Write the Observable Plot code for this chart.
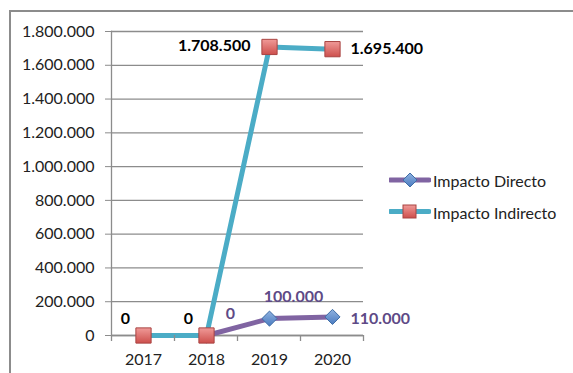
<!DOCTYPE html>
<html>
<head>
<meta charset="utf-8">
<script src="https://cdn.jsdelivr.net/npm/d3@7"></script>
<script src="https://cdn.jsdelivr.net/npm/@observablehq/plot@0.6"></script>
<style>
  html, body { margin: 0; padding: 0; background: #fff; }
  #wrap { position: relative; width: 573px; height: 373px; overflow: hidden; font-family: Lato, "Open Sans", sans-serif; }
  #frame { position: absolute; left: 9px; top: 10px; right: -5px; bottom: -5px; border-top: 2px solid #8c8c8c; border-left: 2px solid #8c8c8c; pointer-events: none; }
  #legend { position: absolute; left: 389px; top: 164px; font-size: 16px; color: #222; }
  .li { display: flex; align-items: center; height: 32px; }
  .li svg { margin-right: 2px; }
</style>
</head>
<body>
<div id="wrap">
  <div id="chart"></div>
  <div id="frame"></div>
  <div id="legend"></div>
</div>
<script>
// ---- data ----
const years = ["2017", "2018", "2019", "2020"];
const seriesNames = ["Impacto Directo", "Impacto Indirecto"];
const directo = [null, 0, 100000, 110000];
const indirecto = [0, 0, 1708500, 1695400];
const yTicks = [0, 200000, 400000, 600000, 800000, 1000000, 1200000, 1400000, 1600000, 1800000];

const loc = d3.formatLocale({decimal: ",", thousands: ".", grouping: [3], currency: ["", ""]});
const fmt = loc.format(",.0f");

const dirData = years.map((y, i) => ({year: y, value: directo[i], i})).filter(d => d.value != null);
const indData = years.map((y, i) => ({year: y, value: indirecto[i], i}));

const TEAL = "#4BACC6", PURPLE = "#8064A2", LBL_PURPLE = "#5E4A86";
const font = "Lato, 'Open Sans', sans-serif";

const maxInd = d3.max(indData, d => d.value);
const lastI = indData.length - 1;
const lastD = dirData[dirData.length - 1].i;

const chart = Plot.plot({
  width: 573,
  height: 373,
  marginLeft: 111,
  marginRight: 210,
  marginTop: 31,
  marginBottom: 38,
  style: {fontFamily: font, fontSize: "16px", color: "#222", background: "transparent"},
  x: {type: "point", domain: years, padding: 0.5, label: null},
  y: {domain: [0, 1800000], label: null},
  marks: [
    Plot.gridY(yTicks, {stroke: "#8c8c8c", strokeOpacity: 1, strokeWidth: 1.3}),
    Plot.axisY(yTicks, {tickFormat: fmt, tickSize: 6, tickPadding: 11, stroke: "#8c8c8c", fontSize: 16, label: null}),
    Plot.axisX({tickSize: 0, tickPadding: 18, fontSize: 16, label: null}),
    Plot.frame({anchor: "left", stroke: "#8c8c8c", strokeWidth: 1.3}),
    Plot.ruleY([0], {stroke: "#8c8c8c", strokeWidth: 1.3}),
    Plot.line(indData, {x: "year", y: "value", stroke: TEAL, strokeWidth: 5}),
    Plot.line(dirData, {x: "year", y: "value", stroke: PURPLE, strokeWidth: 5}),
    Plot.dot(dirData, {x: "year", y: "value", symbol: "diamond2", r: 6.8, fill: "url(#gBlue)", stroke: "#3F6DA6", strokeWidth: 1}),
    Plot.dot(indData, {x: "year", y: "value", symbol: "square", r: 8.6, fill: "url(#gRed)", stroke: "#A94442", strokeWidth: 1}),
    // Indirecto labels
    Plot.text(indData.filter(d => d.value === 0), {x: "year", y: "value", text: d => fmt(d.value), dx: -18, dy: -17, fontWeight: "bold", fill: "#000", fontSize: 16}),
    Plot.text(indData.filter(d => d.value === maxInd), {x: "year", y: "value", text: d => fmt(d.value), dx: -19, dy: -1, textAnchor: "end", fontWeight: "bold", fill: "#000", fontSize: 16}),
    Plot.text(indData.filter(d => d.i === lastI), {x: "year", y: "value", text: d => fmt(d.value), dx: 18, dy: 0, textAnchor: "start", fontWeight: "bold", fill: "#000", fontSize: 16}),
    // Directo labels
    Plot.text(dirData.filter(d => d.i !== lastD), {x: "year", y: "value", text: d => fmt(d.value), dx: 24, dy: -22, fontWeight: "bold", fill: LBL_PURPLE, fontSize: 16}),
    Plot.text(dirData.filter(d => d.i === lastD), {x: "year", y: "value", text: d => fmt(d.value), dx: 18, dy: 2, textAnchor: "start", fontWeight: "bold", fill: LBL_PURPLE, fontSize: 16})
  ]
});

// gradients
const svg = d3.select(chart);
const defs = svg.insert("defs", ":first-child");
const gR = defs.append("linearGradient").attr("id", "gRed").attr("x1", 0).attr("y1", 0).attr("x2", 0).attr("y2", 1);
gR.append("stop").attr("offset", "0%").attr("stop-color", "#F09A98");
gR.append("stop").attr("offset", "100%").attr("stop-color", "#CD4F4C");
const gB = defs.append("linearGradient").attr("id", "gBlue").attr("x1", 0).attr("y1", 0).attr("x2", 0).attr("y2", 1);
gB.append("stop").attr("offset", "0%").attr("stop-color", "#8FB2E0");
gB.append("stop").attr("offset", "100%").attr("stop-color", "#4A7BC0");

// x tick marks at category boundaries, from the library's x scale
const xs = chart.scale("x");
const ys = chart.scale("y");
const step = xs.apply(years[1]) - xs.apply(years[0]);
const bounds = years.map(y => xs.apply(y) - step / 2).concat([xs.apply(years[years.length - 1]) + step / 2]);
const y0 = ys.apply(0);
svg.append("g").selectAll("line").data(bounds).join("line")
  .attr("x1", d => d).attr("x2", d => d).attr("y1", y0).attr("y2", y0 + 6)
  .attr("stroke", "#8c8c8c").attr("stroke-width", 1.3);

document.getElementById("chart").appendChild(chart);

// legend
const legend = document.getElementById("legend");
const items = [
  {name: seriesNames[0], stroke: PURPLE, sym: "diamond"},
  {name: seriesNames[1], stroke: TEAL, sym: "square"}
];
for (const it of items) {
  const row = document.createElement("div");
  row.className = "li";
  const marker = it.sym === "diamond"
    ? `<path d="M21,9 L28,16 L21,23 L14,16 Z" fill="url(#gBlue)" stroke="#3F6DA6" stroke-width="1"/>`
    : `<rect x="14" y="9" width="13" height="13" fill="url(#gRed)" stroke="#A94442" stroke-width="1"/>`;
  row.innerHTML = `<svg width="42" height="32"><line x1="1" x2="40" y1="${it.sym === "diamond" ? 16 : 15.5}" y2="${it.sym === "diamond" ? 16 : 15.5}" stroke="${it.stroke}" stroke-width="5" stroke-linecap="round"/>${marker}</svg><span>${it.name}</span>`;
  legend.appendChild(row);
}
</script>
</body>
</html>
